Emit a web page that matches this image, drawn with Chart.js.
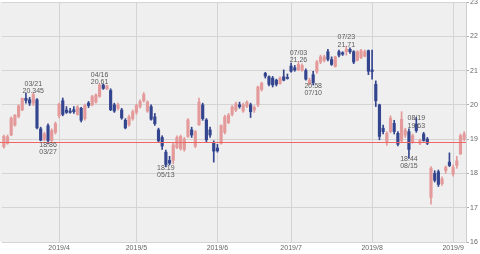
<!DOCTYPE html>
<html>
<head>
<meta charset="utf-8">
<script src="https://cdn.jsdelivr.net/npm/chart.js@4.4.0/dist/chart.umd.min.js"></script>
<style>
  html, body { margin: 0; padding: 0; background: #fff; }
</style>
</head>
<body>
<canvas id="myChart" width="480" height="254"></canvas>
<script>
// trading days (2019)
const dates = [
  "03/11","03/12","03/13","03/14","03/15","03/18","03/19","03/20","03/21","03/22","03/25","03/26","03/27","03/28","03/29",
  "04/01","04/02","04/03","04/04","04/05","04/08","04/09","04/10","04/11","04/12","04/15","04/16","04/17","04/18","04/22","04/23","04/24","04/25","04/26","04/29","04/30",
  "05/01","05/02","05/03","05/06","05/07","05/08","05/09","05/10","05/13","05/14","05/15","05/16","05/17","05/20","05/21","05/22","05/23","05/24","05/28","05/29","05/30","05/31",
  "06/03","06/04","06/05","06/06","06/07","06/10","06/11","06/12","06/13","06/14","06/17","06/18","06/19","06/20","06/21","06/24","06/25","06/26","06/27","06/28",
  "07/01","07/02","07/03","07/05","07/08","07/09","07/10","07/11","07/12","07/15","07/16","07/17","07/18","07/19","07/22","07/23","07/24","07/25","07/26","07/29","07/30","07/31",
  "08/01","08/02","08/05","08/06","08/07","08/08","08/09","08/12","08/13","08/14","08/15","08/16","08/19","08/20","08/21","08/22","08/23","08/26","08/27","08/28","08/29","08/30",
  "09/03","09/04","09/05","09/06"
];
const opens = [
  18.78,18.88,19.12,19.41,19.66,19.85,20.19,20.15,20.05,20.15,19.30,19.00,19.39,18.96,19.20,
  19.68,20.12,19.85,19.82,19.86,19.72,19.90,19.60,20.05,20.00,20.08,20.25,20.58,20.47,20.42,20.00,19.90,19.85,19.55,19.42,19.60,
  19.78,19.95,20.12,19.82,19.95,19.65,19.27,19.05,18.62,18.38,18.38,18.75,18.72,18.70,19.08,19.27,18.80,19.42,20.00,19.56,19.27,18.90,
  18.74,18.88,19.20,19.48,19.72,19.85,20.00,19.82,19.96,20.00,19.85,20.00,20.45,20.92,20.82,20.78,20.72,20.62,20.82,20.80,
  21.13,21.08,21.02,21.00,21.00,20.60,20.88,20.98,21.25,21.30,21.55,21.32,21.12,21.55,21.52,21.55,21.62,21.55,21.30,21.38,21.42,21.58,
  21.02,20.60,20.00,19.32,18.93,19.22,19.46,19.17,18.95,19.12,19.22,18.92,19.44,18.88,19.15,19.00,17.30,18.00,18.05,17.70,18.08,18.33,
  17.98,18.23,18.57,19.00
];
const highs = [
  19.12,19.12,19.65,19.72,20.00,20.20,20.34,20.22,20.345,20.18,19.35,19.20,19.45,19.30,19.50,
  20.05,20.20,19.95,19.90,19.95,19.98,19.93,20.02,20.10,20.28,20.32,20.61,20.60,20.58,20.47,20.05,20.05,19.90,19.60,19.70,19.85,
  20.02,20.15,20.36,20.12,20.00,19.75,19.32,19.10,18.68,18.50,18.88,19.10,19.12,19.05,19.60,19.35,19.25,20.20,20.05,19.60,19.35,18.95,
  18.85,19.42,19.70,19.75,19.98,20.08,20.08,20.05,20.12,20.05,19.97,20.55,20.66,20.95,20.85,20.83,20.75,20.82,21.02,20.90,
  21.22,21.15,21.26,21.20,21.05,20.78,20.98,21.30,21.45,21.45,21.62,21.40,21.42,21.60,21.55,21.71,21.66,21.58,21.58,21.62,21.60,21.60,
  21.60,20.70,20.02,19.41,19.22,19.68,19.55,19.22,19.80,19.32,19.30,19.15,19.63,19.00,19.20,19.05,18.20,18.08,18.10,17.90,18.22,18.60,
  18.25,18.50,19.15,19.22
];
const lows = [
  18.74,18.85,19.10,19.38,19.62,19.83,20.05,19.98,19.98,19.30,18.95,18.95,18.86,18.90,19.15,
  19.62,19.68,19.75,19.76,19.75,19.70,19.50,19.55,19.92,19.97,20.05,20.22,20.45,20.44,19.83,19.78,19.85,19.58,19.30,19.38,19.55,
  19.72,19.90,20.08,19.78,19.55,19.40,18.90,18.70,18.19,18.25,18.28,18.72,18.68,18.65,19.05,19.05,18.75,19.40,19.55,18.90,19.05,18.33,
  18.62,18.85,19.15,19.45,19.68,19.80,19.90,19.78,19.92,19.63,19.78,19.95,20.40,20.78,20.55,20.52,20.55,20.60,20.70,20.75,
  20.95,20.98,21.00,20.98,20.72,20.60,20.58,20.92,21.20,21.25,21.28,21.15,21.10,21.40,21.44,21.45,21.50,21.20,21.28,21.35,21.40,20.88,
  20.75,19.95,18.98,19.15,18.82,19.18,19.15,18.80,18.90,19.05,18.44,18.88,19.20,18.84,18.94,18.84,17.10,17.75,17.62,17.65,18.00,18.20,
  17.92,18.15,18.55,18.95
];
const closes = [
  19.08,19.07,19.61,19.70,19.97,20.19,20.13,20.05,20.30,19.33,18.97,19.15,18.96,19.25,19.45,
  20.02,19.72,19.78,19.78,19.80,19.94,19.55,19.98,19.98,20.24,20.29,20.58,20.48,20.55,19.86,19.82,20.00,19.62,19.33,19.65,19.80,
  19.98,20.10,20.30,20.08,19.58,19.45,18.95,18.80,18.26,18.30,18.83,19.05,19.08,19.00,19.56,19.12,19.22,20.08,19.60,18.98,19.12,18.65,
  18.66,19.40,19.65,19.70,19.94,20.03,19.95,20.00,20.08,19.80,19.93,20.52,20.63,20.84,20.60,20.58,20.60,20.78,20.72,20.77,
  20.98,21.02,21.18,21.15,20.75,20.72,20.65,21.25,21.40,21.40,21.33,21.18,21.40,21.45,21.48,21.62,21.55,21.25,21.55,21.58,21.55,20.98,
  20.97,20.12,19.08,19.22,19.17,19.61,19.22,18.85,19.58,19.27,18.70,19.10,19.25,18.96,18.96,18.88,18.15,17.80,17.68,17.84,18.18,18.23,
  18.18,18.37,19.10,19.15
];

const monthStarts = ["04/01","05/01","06/03","07/01","08/01","09/03"];
const monthLabels = ["2019/4","2019/5","2019/6","2019/7","2019/8","2019/9"];
const refLine = 18.93;

// high / low marks
const markDates = ["03/21","03/27","04/16","05/13","07/03","07/10","07/23","08/15","08/19"];
const markKinds = ["high","low","high","low","high","low","high","low","high"];
const markTexts = ["20.345","18.86","20.61","18.19","21.26","20.58","21.71","18.44","19.63"];

const upColor = "#e49a9a";
const downColor = "#34458f";
const candleColors = dates.map((d, i) => closes[i] >= opens[i] ? upColor : downColor);

const FONT = "'Liberation Sans', Arial, sans-serif";

// grey plot background
const plotBg = {
  id: "plotBg",
  beforeDraw(chart) {
    const { ctx, chartArea: a } = chart;
    ctx.save();
    ctx.fillStyle = "#efefef";
    ctx.fillRect(0, a.top, a.right, a.bottom - a.top);
    ctx.restore();
  }
};

// red reference line
const refLinePlugin = {
  id: "refLine",
  afterDatasetsDraw(chart) {
    const { ctx, chartArea: a, scales } = chart;
    const y = Math.round(scales.y.getPixelForValue(refLine));
    ctx.save();
    ctx.fillStyle = "#f06464";
    ctx.fillRect(0, y, a.right, 1);
    ctx.restore();
  }
};

// labels for highs and lows
const markNudge = { "08/19": 10 };
const marks = {
  id: "marks",
  afterDatasetsDraw(chart) {
    const { ctx, scales } = chart;
    ctx.save();
    ctx.font = "7px " + FONT;
    ctx.fillStyle = "#5a5a5a";
    ctx.textAlign = "center";
    ctx.textBaseline = "middle";
    markDates.forEach((d, k) => {
      const i = dates.indexOf(d);
      const x = scales.x.getPixelForValue(i);
      const nudge = markNudge[d] || 0;
      if (markKinds[k] === "high") {
        const y = scales.y.getPixelForValue(highs[i]) + nudge;
        ctx.fillText(d, x, y - 9);
        ctx.fillText(markTexts[k], x, y - 1.5);
      } else {
        const y = scales.y.getPixelForValue(lows[i]) + nudge;
        ctx.fillText(markTexts[k], x, y + 1);
        ctx.fillText(d, x, y + 8);
      }
    });
    ctx.restore();
  }
};

const ctx = document.getElementById("myChart");

new Chart(ctx, {
  type: "bar",
  data: {
    labels: dates,
    datasets: [
      {
        // body
        data: dates.map((d, i) => [opens[i], closes[i]]),
        backgroundColor: candleColors,
        barThickness: 2.5,
        minBarLength: 1,
        grouped: false,
      },
      {
        // wick
        data: dates.map((d, i) => [lows[i], highs[i]]),
        backgroundColor: candleColors,
        barThickness: 1,
        grouped: false,
      },
    ],
  },
  options: {
    responsive: false,
    animation: false,
    devicePixelRatio: 1,
    layout: { padding: { top: 2, left: 2, right: 0, bottom: 0 } },
    plugins: { legend: { display: false }, tooltip: { enabled: false } },
    scales: {
      x: {
        offset: true,
        afterBuildTicks: (axis) => {
          axis.ticks = monthStarts.map((d) => ({ value: dates.indexOf(d) }));
        },
        afterFit: (axis) => {
          axis.height = 12;
          axis.paddingLeft = 0;
          axis.paddingRight = 0;
        },
        ticks: {
          autoSkip: false,
          maxRotation: 0,
          padding: 2,
          color: "#666",
          font: { size: 7, family: FONT },
          callback: (v) => monthLabels[monthStarts.indexOf(dates[v])],
        },
        grid: { offset: false, color: "#d4d4d4", drawTicks: false },
        border: { display: false },
      },
      y: {
        position: "right",
        min: 16,
        max: 23,
        afterFit: (axis) => {
          axis.width = 14;
          axis.paddingTop = 0;
          axis.paddingBottom = 0;
        },
        ticks: {
          stepSize: 1,
          padding: 1,
          color: "#666",
          font: { size: 7, family: FONT },
        },
        grid: { color: "#d4d4d4", tickLength: 3, tickColor: "#aaa" },
        border: { display: true, color: "#cfcfcf" },
      },
    },
  },
  plugins: [plotBg, refLinePlugin, marks],
});
</script>
</body>
</html>
